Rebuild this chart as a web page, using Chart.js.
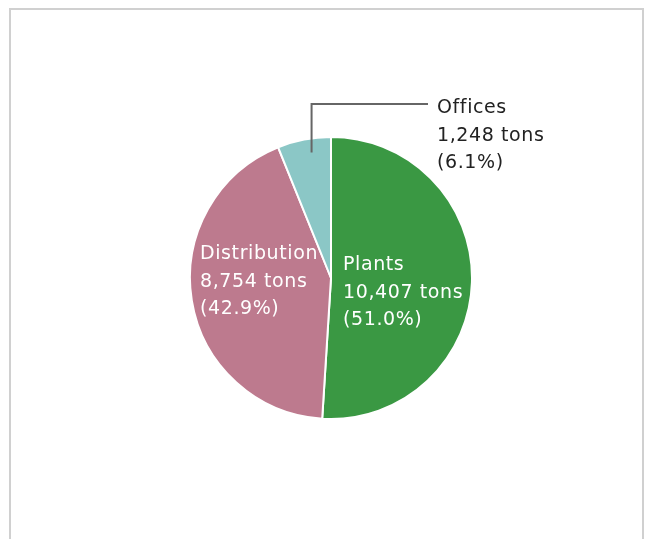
<!DOCTYPE html>
<html>
<head>
<meta charset="utf-8">
<script src="https://cdn.jsdelivr.net/npm/chart.js@4"></script>
<style>
  html, body { margin: 0; padding: 0; background: #fff; }
  #wrap { position: relative; width: 653px; height: 539px; overflow: hidden; }
  #frame { position: absolute; left: 9px; top: 8px; width: 631px; height: 560px; border: 2px solid #d0d0d0; }
  canvas { position: absolute; left: 0; top: 0; }
</style>
</head>
<body>
<div id="wrap">
  <div id="frame"></div>
  <canvas id="myChart" width="653" height="539"></canvas>
</div>
<script>
// emissions by site (tons)
var categories = ['Plants', 'Distribution', 'Offices'];
var tons = [10407, 8754, 1248];
var tonLabels = ['10,407 tons', '8,754 tons', '1,248 tons'];
var shares = ['(51.0%)', '(42.9%)', '(6.1%)'];
var colors = ['#3a9843', '#bd7a8e', '#8bc7c6'];

var FONT = '19px "DejaVu Sans", sans-serif';
var LINE = 27.5;

// draws the text labels + the leader line for the small slice
var labelPlugin = {
    id: 'sliceLabels',
    afterDatasetsDraw: function (chart) {
        var ctx = chart.ctx;
        var arcs = chart.getDatasetMeta(0).data;
        ctx.save();
        ctx.font = FONT;
        ctx.letterSpacing = '0.6px';
        ctx.textAlign = 'left';
        ctx.textBaseline = 'alphabetic';

        arcs.forEach(function (arc, i) {
            var p = arc.getProps(['x', 'y', 'outerRadius', 'startAngle', 'endAngle']);
            var lines = [categories[i], tonLabels[i], shares[i]];
            var tx, ty;
            if (i == 0) {
                ctx.fillStyle = '#fff';
                tx = p.x + 12; ty = p.y - 8;
            } else if (i == 1) {
                ctx.fillStyle = '#fff';
                tx = p.x - p.outerRadius + 10; ty = p.y - 19;
            } else {
                // leader line, a bit right of the slice middle
                var a = p.endAngle - (p.endAngle - p.startAngle) * 0.4;
                var sx = p.x + Math.cos(a) * p.outerRadius * 0.9;
                var sy = p.y + Math.sin(a) * p.outerRadius * 0.9;
                var topY = p.y - p.outerRadius - 33;
                ctx.strokeStyle = '#666';
                ctx.lineWidth = 2;
                ctx.beginPath();
                ctx.moveTo(sx, sy);
                ctx.lineTo(sx, topY);
                ctx.lineTo(p.x + 97, topY);
                ctx.stroke();
                ctx.fillStyle = '#222';
                tx = p.x + 106; ty = topY + 9;
            }
            lines.forEach(function (t, k) {
                ctx.fillText(t, tx, ty + k * LINE);
            });
        });
        ctx.restore();
    }
};

let chart = document.getElementById('myChart').getContext('2d');

let pieChart = new Chart(chart, {
    type: 'pie',
    data: {
        labels: categories,
        datasets: [
            {
                data: tons,
                backgroundColor: colors,
                borderColor: '#fff',
                borderWidth: 2
            }
        ]
    },
    options: {
        responsive: false,
        animation: false,
        layout: {
            padding: { left: 189, right: 180, top: 136, bottom: 119 }
        },
        plugins: {
            legend: { display: false },
            tooltip: { enabled: false }
        }
    },
    plugins: [labelPlugin]
});
</script>
</body>
</html>
